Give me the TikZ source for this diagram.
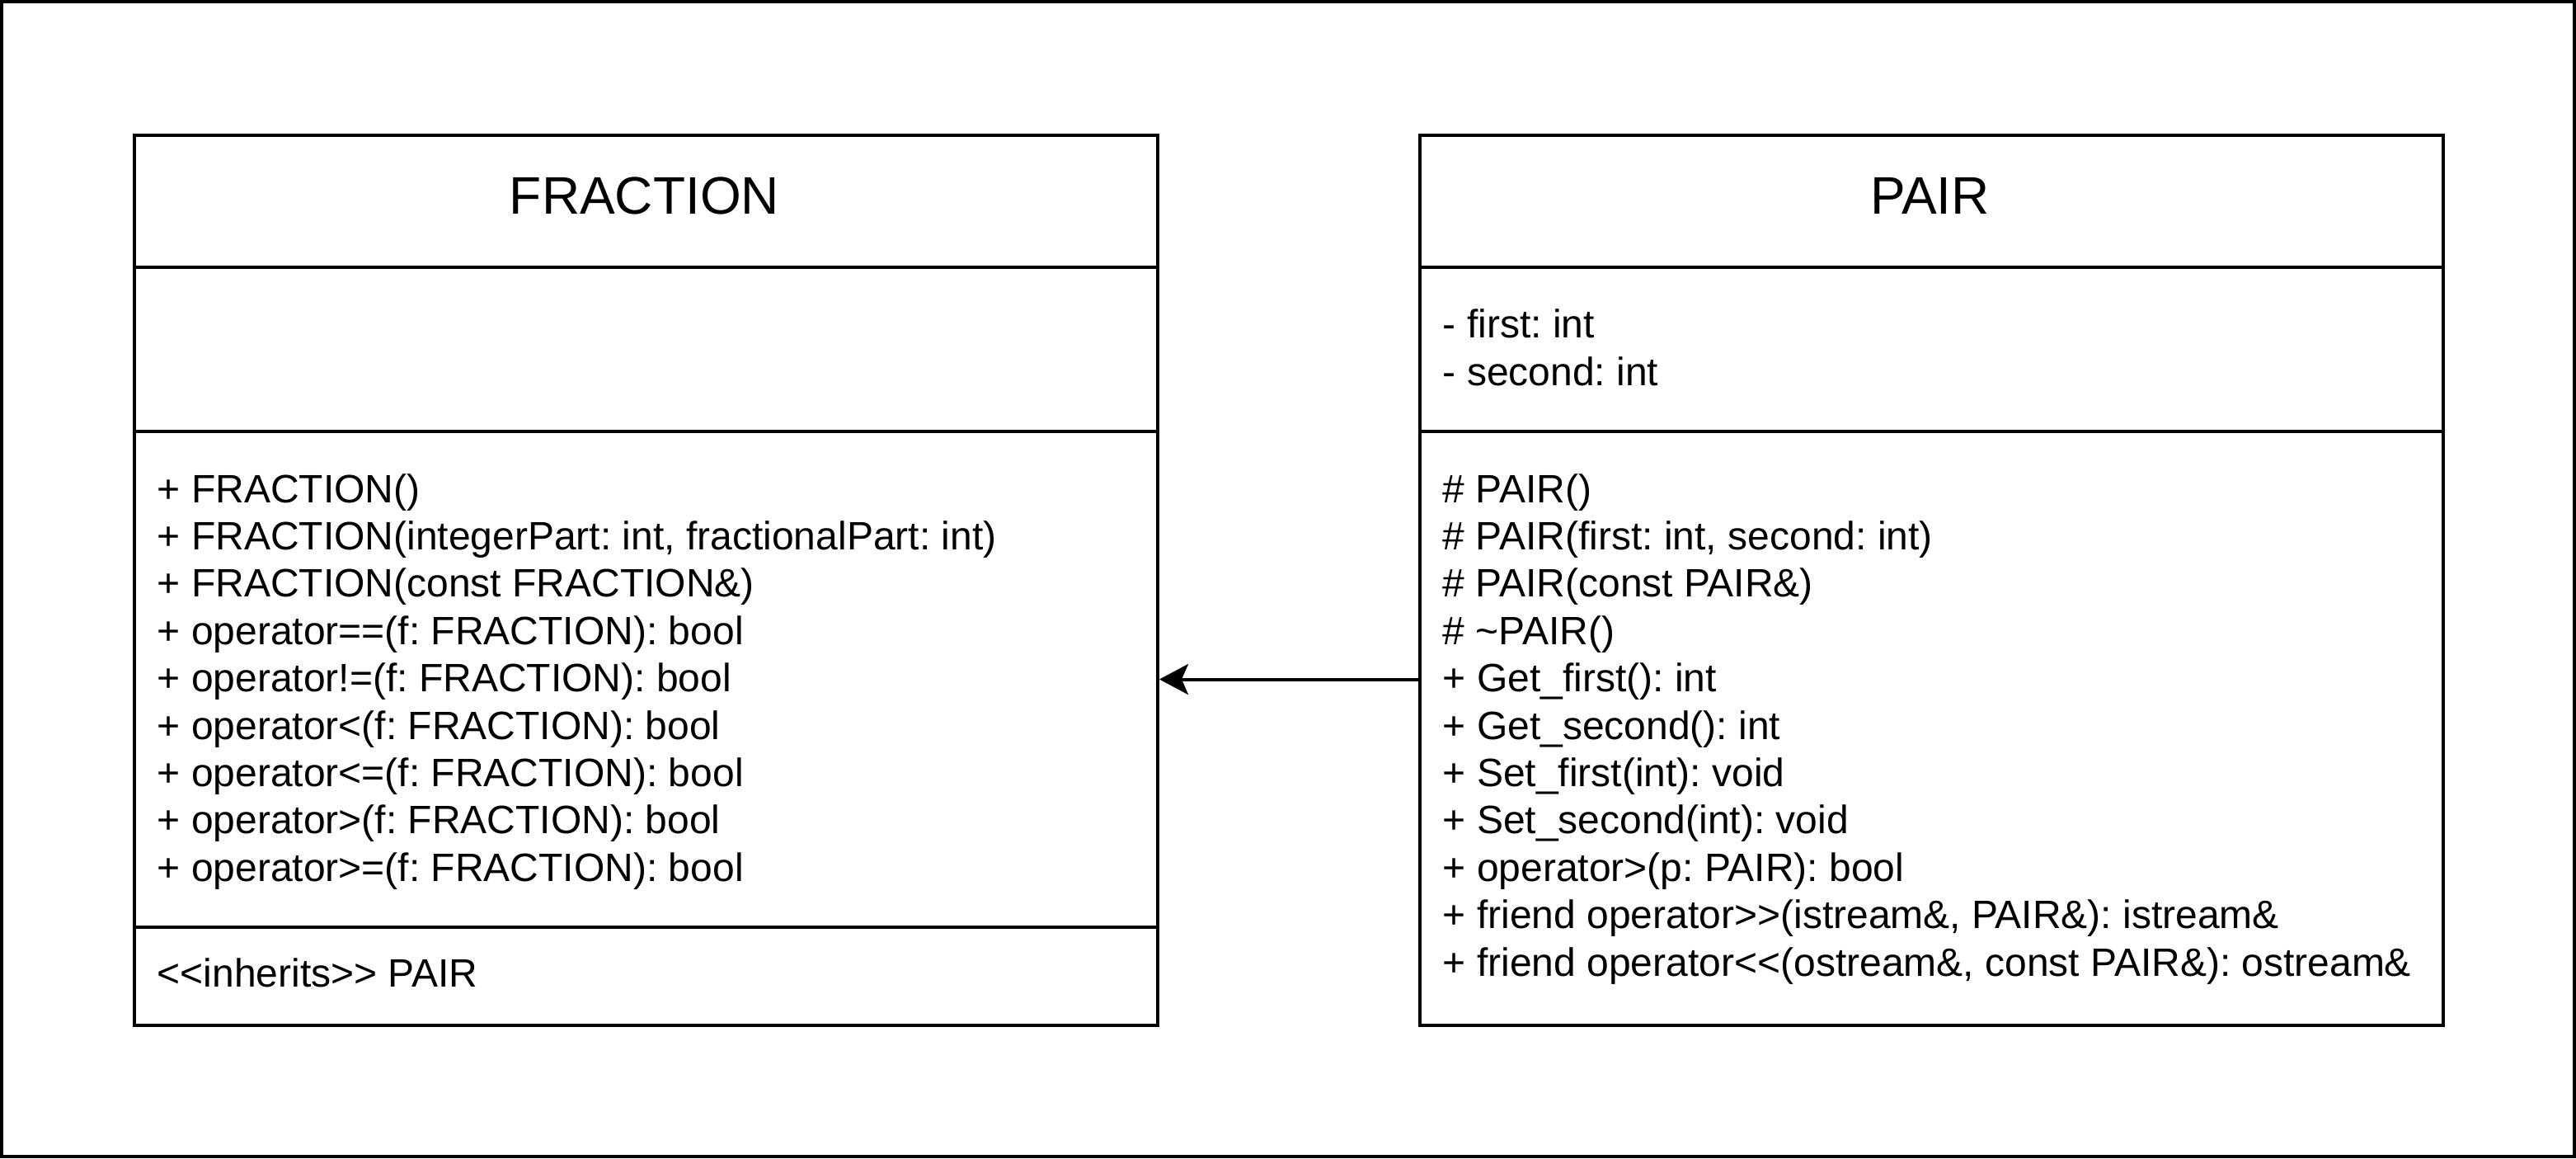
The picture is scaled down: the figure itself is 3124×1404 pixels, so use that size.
\documentclass[tikz,border=0pt]{standalone}
\usepackage{fontspec}
\setmainfont{Liberation Sans}[Ligatures=TeXOff]
\usetikzlibrary{arrows.meta}
\begin{document}
\frenchspacing
\begin{tikzpicture}[x=0.25pt,y=-0.25pt,
  box/.style={draw, line width=1pt, inner sep=0pt, anchor=north west, minimum width=310.25pt},
  classtitle/.style={anchor=base, inner sep=0pt, font=\fontsize{16}{19.2}\selectfont},
  member/.style={anchor=base west, inner sep=0pt, font=\fontsize{12}{14.4}\selectfont\frenchspacing},
  inh/.style={-{Stealth[length=8.75pt,width=9.25pt,inset=2pt]}, line width=1pt}]
\useasboundingbox (0,0) rectangle (3124,1404);
\draw[line width=1pt] (2,2) rectangle (3122,1402);
% FRACTION
\node[box, minimum height=40pt] (fh) at (161,162) {};
\node[box, minimum height=49.75pt] (fa) at (161,322) {};
\node[box, minimum height=150.25pt] (fm) at (161,521) {};
\node[box, minimum height=29.75pt] (fx) at (161,1122) {};
\node[classtitle] (ft) at (781.5,259) {FRACTION};
\foreach \t [count=\i from 0] in {{+ FRACTION()},{+ FRACTION(integerPart: int, fractionalPart: int)},{+ FRACTION(const FRACTION\&)},{+ operator==(f: FRACTION): bool},{+ operator!=(f: FRACTION): bool},{+ operator<(f: FRACTION): bool},{+ operator<=(f: FRACTION): bool},{+ operator>(f: FRACTION): bool},{+ operator>=(f: FRACTION): bool}}
  \node[member] (fml\i) at (190,{609+57.4*\i}) {\t};
\node[member] (finh) at (190,1196) {<<inherits>> PAIR};
% PAIR
\node[box, minimum height=40pt] (ph) at (1720,162) {};
\node[box, minimum height=49.75pt] (pa) at (1720,322) {};
\node[box, minimum height=180pt] (pm) at (1720,521) {};
\node[classtitle] (pt) at (2340.5,259) {PAIR};
\node[member] (pa0) at (1749,409) {- first: int};
\node[member] (pa1) at (1749,467) {- second: int};
\foreach \t [count=\i from 0] in {{\# PAIR()},{\# PAIR(first: int, second: int)},{\# PAIR(const PAIR\&)},{\# \textasciitilde PAIR()},{+ Get\_first(): int},{+ Get\_second(): int},{+ Set\_first(int): void},{+ Set\_second(int): void},{+ operator>(p: PAIR): bool},{+ friend operator>>(istream\&, PAIR\&): istream\&},{+ friend operator<<(ostream\&, const PAIR\&): ostream\&}}
  \node[member] (pml\i) at (1749,{609+57.4*\i}) {\t};
% inheritance arrow
\draw[inh] (pm.west |- fm.east) -- (fm.east);
\end{tikzpicture}
\end{document}
